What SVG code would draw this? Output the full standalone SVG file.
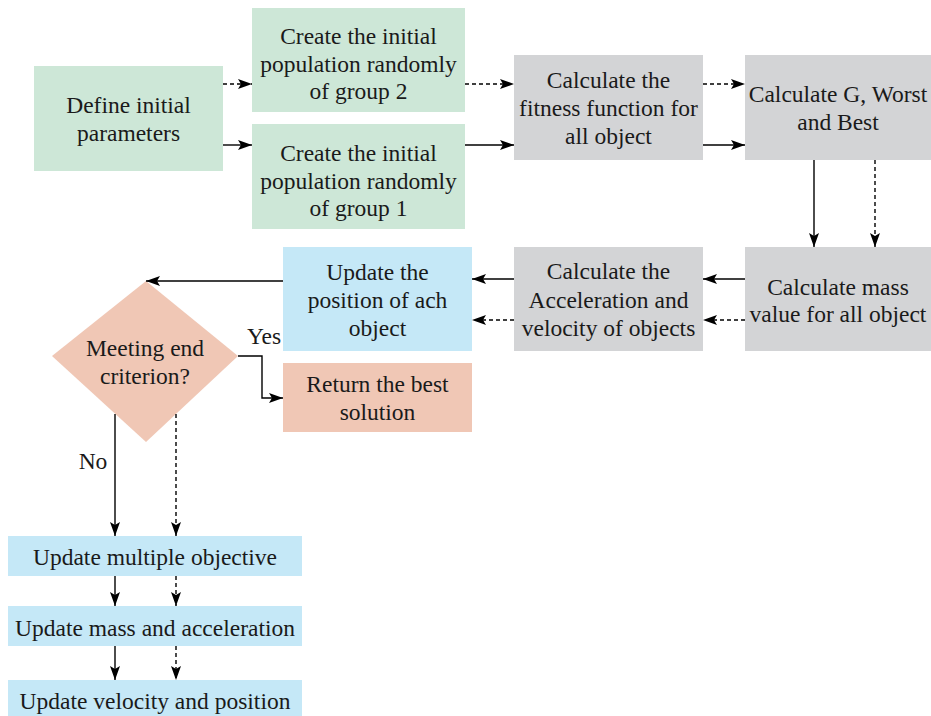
<svg xmlns="http://www.w3.org/2000/svg" width="931" height="716" viewBox="0 0 931 716">
<defs>
<marker id="ah" viewBox="0 0 14 10" refX="14" refY="5" markerWidth="14" markerHeight="10" markerUnits="userSpaceOnUse" orient="auto">
<path d="M0,0 L14,5 L0,10 L3,5 Z" fill="#000"/>
</marker>
</defs>
<style>
text{font-family:"Liberation Serif","Times New Roman",serif;font-size:23.5px;fill:#1a1a1a;text-anchor:middle}
.g{fill:#cde7d7}
.gr{fill:#d3d4d6}
.b{fill:#c5e8f7}
.s{fill:#f0c7b5}
.c{stroke:#000;stroke-width:1.4;fill:none;marker-end:url(#ah)}
.d{stroke-dasharray:4 3}
</style>
<g id="define"><rect class="g" x="34" y="66" width="189" height="105"/><text x="128.5" y="113">Define initial</text><text x="128.5" y="141">parameters</text></g>
<g id="group2"><rect class="g" x="252" y="8" width="213" height="104"/><text x="358.5" y="44">Create the initial</text><text x="358.5" y="72">population randomly</text><text x="358.5" y="99">of group 2</text></g>
<g id="group1"><rect class="g" x="252" y="124" width="213" height="105"/><text x="358.5" y="161">Create the initial</text><text x="358.5" y="189">population randomly</text><text x="358.5" y="216">of group 1</text></g>
<g id="fitness"><rect class="gr" x="514" y="55" width="189" height="105"/><text x="608.5" y="88">Calculate the</text><text x="608.5" y="116">fitness function for</text><text x="608.5" y="144">all object</text></g>
<g id="gworst"><rect class="gr" x="745" y="55" width="186" height="105"/><text x="838" y="102">Calculate G, Worst</text><text x="838" y="130">and Best</text></g>
<g id="mass"><rect class="gr" x="745" y="247" width="186" height="104"/><text x="838" y="295">Calculate mass</text><text x="838" y="322">value for all object</text></g>
<g id="accel"><rect class="gr" x="514" y="247" width="189" height="104"/><text x="608.5" y="279">Calculate the</text><text x="608.5" y="308">Acceleration and</text><text x="608.5" y="336">velocity of objects</text></g>
<g id="updatepos"><rect class="b" x="283" y="247" width="189" height="104"/><text x="377.5" y="280">Update the</text><text x="377.5" y="308">position of ach</text><text x="377.5" y="336">object</text></g>
<g id="decision"><polygon class="s" points="146,281 238,356 146,442 52,356"/><text x="145" y="356">Meeting end</text><text x="145" y="384">criterion?</text></g>
<g id="returnbest"><rect class="s" x="283" y="363" width="189" height="69"/><text x="377.5" y="392">Return the best</text><text x="377.5" y="420">solution</text></g>
<g id="multobj"><rect class="b" x="8" y="536" width="294" height="40"/><text x="155" y="565">Update multiple objective</text></g>
<g id="massacc"><rect class="b" x="8" y="606" width="294" height="40"/><text x="155" y="636">Update mass and acceleration</text></g>
<g id="velpos"><rect class="b" x="8" y="680" width="294" height="36"/><text x="155" y="709">Update velocity and position</text></g>
<g id="connectors">
<path class="c d" d="M223,84 H252"/>
<path class="c" d="M223,145 H252"/>
<path class="c d" d="M465,84 H514"/>
<path class="c" d="M465,145 H514"/>
<path class="c d" d="M703,84 H745"/>
<path class="c" d="M703,145 H745"/>
<path class="c" d="M814,160 V247"/>
<path class="c d" d="M875,160 V247"/>
<path class="c" d="M745,279 H703"/>
<path class="c d" d="M745,320 H703"/>
<path class="c" d="M514,279 H472"/>
<path class="c d" d="M514,320 H472"/>
<path class="c" d="M283,281 H146"/>
<path class="c" d="M238,356 H262 V398 H283"/>
<path class="c" d="M115,414 V536"/>
<path class="c d" d="M176,414 V536"/>
<path class="c" d="M115,576 V606"/>
<path class="c d" d="M176,576 V606"/>
<path class="c" d="M115,646 V680"/>
<path class="c d" d="M176,646 V680"/>
<text x="264" y="344">Yes</text>
<text x="93" y="469">No</text>
</g>
</svg>
